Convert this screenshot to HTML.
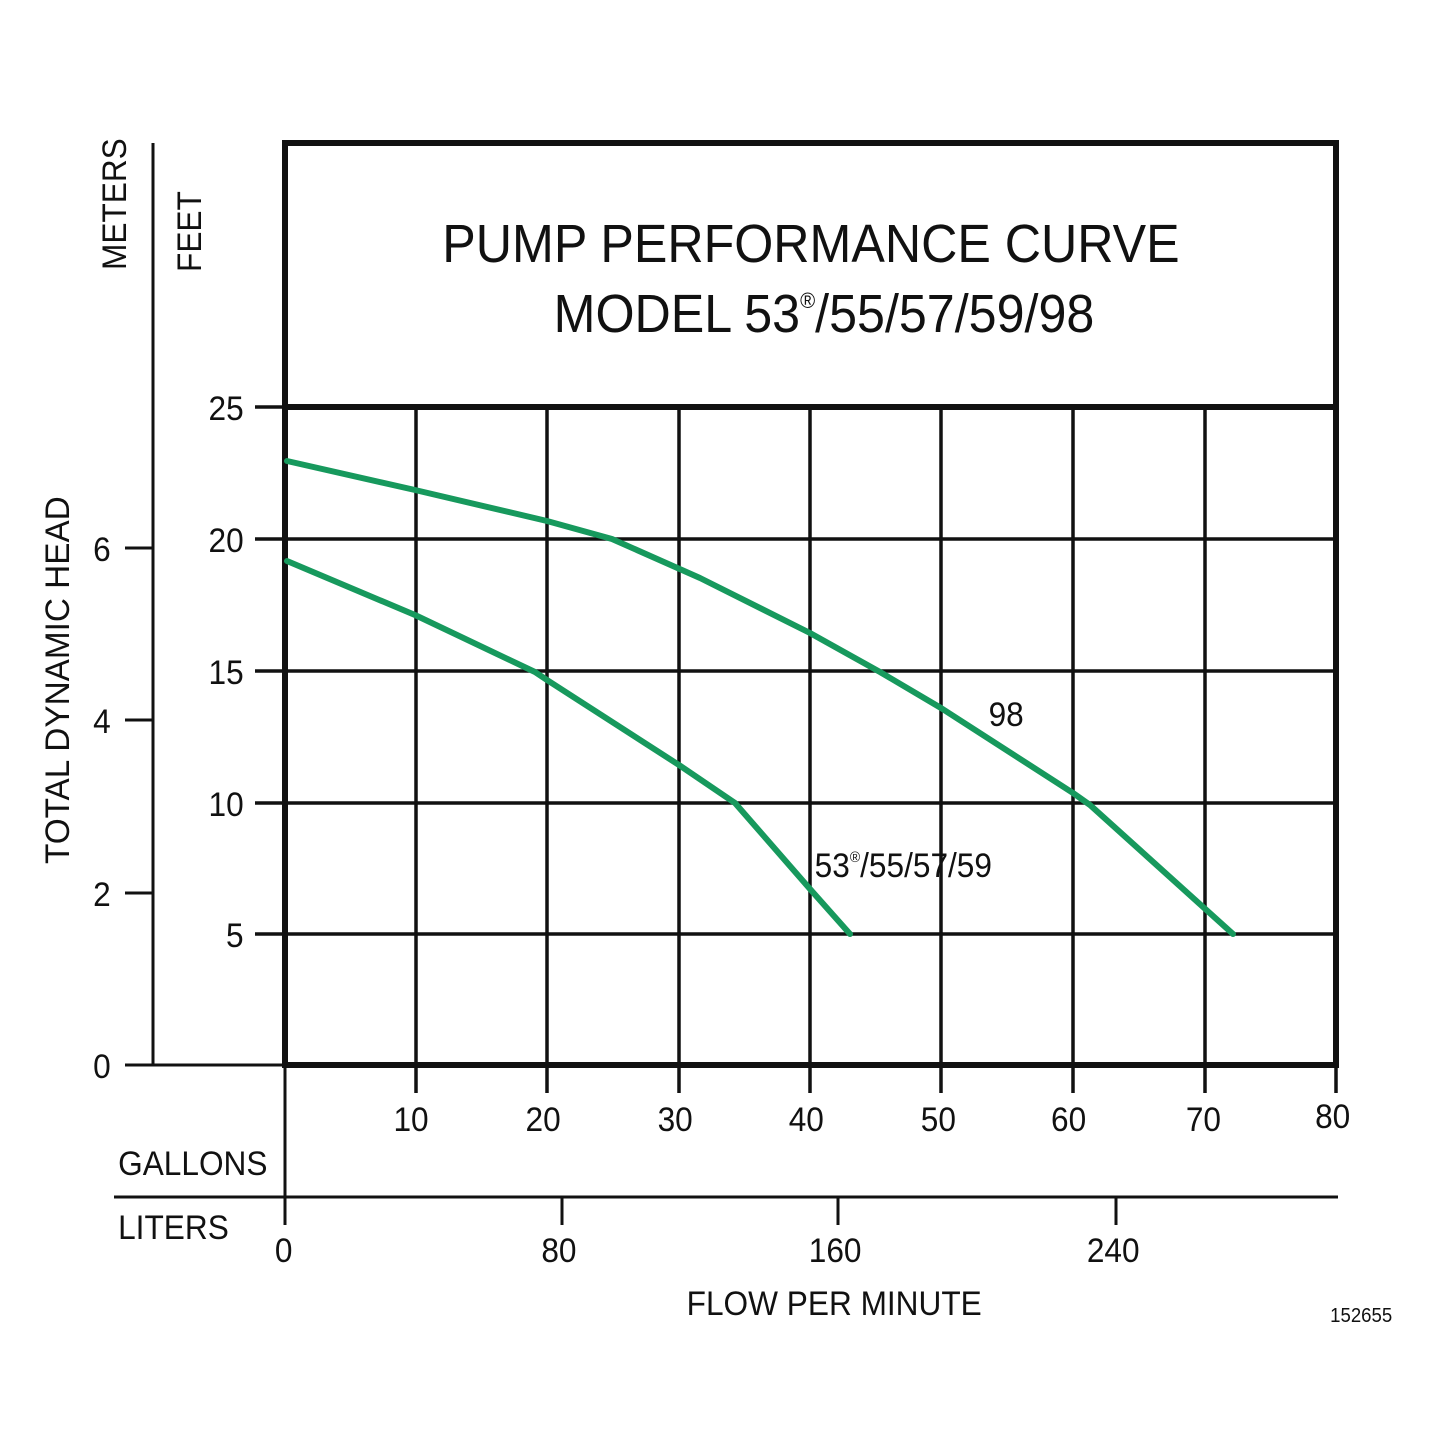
<!DOCTYPE html>
<html><head><meta charset="utf-8"><style>
html,body{margin:0;padding:0;background:#fff}
svg text{font-family:"Liberation Sans",sans-serif;fill:#111}
</style></head><body>
<svg width="1445" height="1445" viewBox="0 0 1445 1445" xmlns="http://www.w3.org/2000/svg">
<g stroke="#111" fill="none">
<g stroke-width="3.5">
<line x1="416" y1="407" x2="416" y2="1093"/>
<line x1="547" y1="407" x2="547" y2="1093"/>
<line x1="679" y1="407" x2="679" y2="1093"/>
<line x1="810" y1="407" x2="810" y2="1093"/>
<line x1="941" y1="407" x2="941" y2="1093"/>
<line x1="1073" y1="407" x2="1073" y2="1093"/>
<line x1="1205" y1="407" x2="1205" y2="1093"/>
<line x1="1336" y1="1065" x2="1336" y2="1093"/>
<line x1="255" y1="539" x2="1336" y2="539"/>
<line x1="255" y1="671" x2="1336" y2="671"/>
<line x1="255" y1="803" x2="1336" y2="803"/>
<line x1="255" y1="934" x2="1336" y2="934"/>
<line x1="255" y1="407" x2="285" y2="407"/>
</g>
<rect x="285" y="143" width="1051" height="922" stroke-width="6"/>
<line x1="285" y1="407" x2="1336" y2="407" stroke-width="6"/>
<g stroke-width="3">
<line x1="153" y1="143" x2="153" y2="1065"/>
<line x1="125" y1="1065" x2="285" y2="1065"/>
<line x1="125" y1="548" x2="153" y2="548"/>
<line x1="125" y1="720" x2="153" y2="720"/>
<line x1="125" y1="893" x2="153" y2="893"/>
<line x1="285" y1="1065" x2="285" y2="1225"/>
<line x1="114" y1="1197" x2="1338" y2="1197"/>
<line x1="562" y1="1197" x2="562" y2="1225"/>
<line x1="838" y1="1197" x2="838" y2="1225"/>
<line x1="1116" y1="1197" x2="1116" y2="1225"/>
</g>
<g stroke="#17995d" stroke-width="6" stroke-linejoin="round" stroke-linecap="round">
<polyline points="287,461 415,490 547,521 612,539 700,578 810,633 880,672 941,708 1073,793 1090,805 1233,934"/>
<polyline points="287,561 415,615 535,672 547,680 679,765 735,803 810,889 850,934"/>
</g>
</g>
<g transform="scale(0.93,1)">
<text x="872" y="262" text-anchor="middle" font-size="54">PUMP PERFORMANCE CURVE</text>
<text x="886" y="332" text-anchor="middle" font-size="54">MODEL 53<tspan font-size="22" dy="-24">®</tspan><tspan dy="24">/55/57/59/98</tspan></text>
</g>
<g font-size="34" transform="scale(0.93,1)">
<text x="1063" y="726">98</text>
<text x="876" y="877">53<tspan font-size="15" dy="-15">®</tspan><tspan dy="15">/55/57/59</tspan></text>
<text x="262" y="420" text-anchor="end">25</text>
<text x="262" y="552" text-anchor="end">20</text>
<text x="262" y="684" text-anchor="end">15</text>
<text x="262" y="816" text-anchor="end">10</text>
<text x="262" y="947" text-anchor="end">5</text>
<text x="119" y="561" text-anchor="end">6</text>
<text x="119" y="733" text-anchor="end">4</text>
<text x="119" y="906" text-anchor="end">2</text>
<text x="119" y="1078" text-anchor="end">0</text>
<text x="442" y="1131" text-anchor="middle">10</text>
<text x="584" y="1131" text-anchor="middle">20</text>
<text x="726" y="1131" text-anchor="middle">30</text>
<text x="867" y="1131" text-anchor="middle">40</text>
<text x="1009" y="1131" text-anchor="middle">50</text>
<text x="1149" y="1131" text-anchor="middle">60</text>
<text x="1294" y="1131" text-anchor="middle">70</text>
<text x="1433" y="1128" text-anchor="middle">80</text>
<text x="305" y="1262" text-anchor="middle">0</text>
<text x="601" y="1262" text-anchor="middle">80</text>
<text x="898" y="1262" text-anchor="middle">160</text>
<text x="1197" y="1262" text-anchor="middle">240</text>
<text x="127" y="1175">GALLONS</text>
<text x="127" y="1239">LITERS</text>
<text x="897" y="1315" text-anchor="middle">FLOW PER MINUTE</text>
<text x="1497" y="1322" font-size="20" text-anchor="end">152655</text>
</g>
<g font-size="34">
<text transform="translate(126,270) rotate(-90) scale(0.93,1)">METERS</text>
<text transform="translate(201,272) rotate(-90) scale(0.93,1)">FEET</text>
<text transform="translate(69,864) rotate(-90) scale(0.98,1)">TOTAL DYNAMIC HEAD</text>
</g>
</svg>
</body></html>
